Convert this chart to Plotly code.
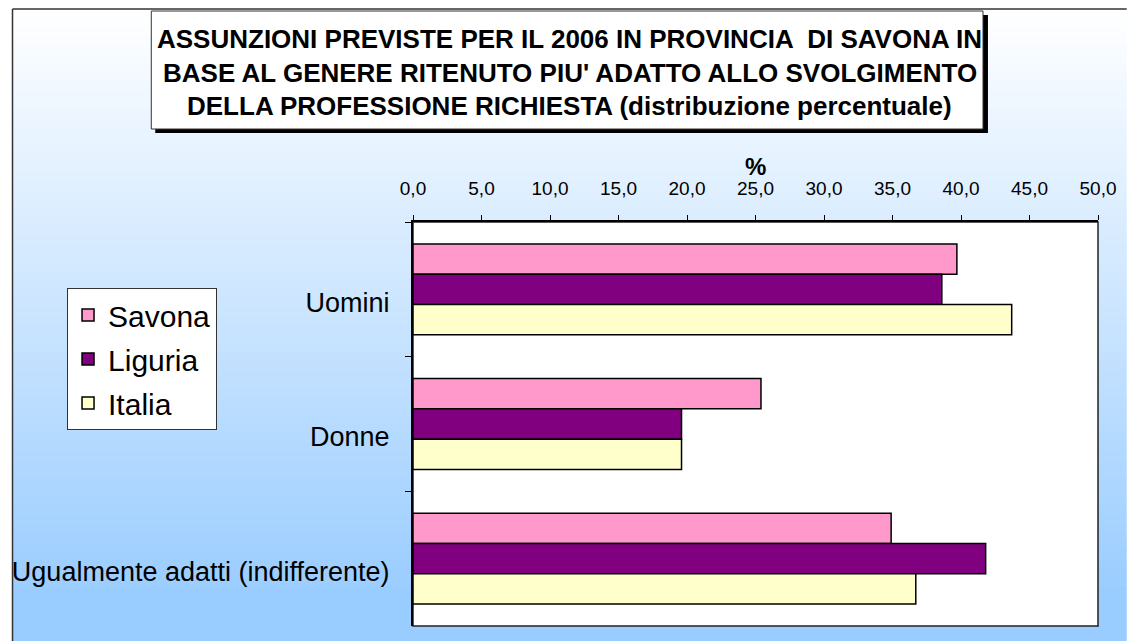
import plotly.graph_objects as go

# ---------------- data ----------------
categories = ["Uomini", "Donne", "Ugualmente adatti (indifferente)"]
series_names = ["Savona", "Liguria", "Italia"]
savona = [39.7, 25.4, 34.9]
liguria = [38.6, 19.6, 41.8]
italia = [43.7, 19.6, 36.7]
x_tick_values = [0, 5, 10, 15, 20, 25, 30, 35, 40, 45, 50]
title_lines = [
    "ASSUNZIONI PREVISTE PER IL 2006 IN PROVINCIA  DI SAVONA IN",
    "BASE AL GENERE RITENUTO PIU' ADATTO ALLO SVOLGIMENTO",
    "DELLA PROFESSIONE RICHIESTA (distribuzione percentuale)",
]
axis_unit = "%"

# ---------------- styles ----------------
colors = ["#FF99CC", "#800080", "#FFFFCC"]
FONT = "Liberation Sans, Arial, Helvetica, sans-serif"

W, H = 1128, 641
L, R, T, B = 413, 24, 222, 15
PW = W - L - R
PH = H - T - B


def px(x):
    return (x - L) / PW


def py(y):
    return (H - B - y) / PH


fig = go.Figure()
for name, vals, col in zip(series_names, [savona, liguria, italia], colors):
    fig.add_trace(go.Bar(
        name=name, y=categories, x=vals, orientation="h",
        marker=dict(color=col, line=dict(color="#000000", width=1.5)),
        legendgroup=name,
    ))

shapes = []
# gradient background of chart area
top_y, full_y = 9, 600
c0 = (255, 255, 255)
c1 = (153, 204, 255)
n = 70
y_start = 9
y_end = 641
step = (y_end - y_start) / n
for i in range(n):
    ya = y_start + i * step
    yb = ya + step + 0.8
    ym = ya + step / 2
    f = min(1.0, max(0.0, (ym - top_y) / (full_y - top_y)))
    c = tuple(round(c0[k] + (c1[k] - c0[k]) * f) for k in range(3))
    shapes.append(dict(type="rect", xref="paper", yref="paper", layer="below",
                       x0=px(9), x1=px(W + 5), y0=py(ya), y1=py(yb),
                       fillcolor="rgb(%d,%d,%d)" % c, line=dict(width=0)))
# outer chart border (left and top)
shapes.append(dict(type="line", xref="paper", yref="paper", layer="below",
                   x0=px(9), x1=px(9), y0=py(9), y1=py(H + 5),
                   line=dict(color="#333333", width=1.5)))
shapes.append(dict(type="line", xref="paper", yref="paper", layer="below",
                   x0=px(9), x1=px(W + 5), y0=py(9), y1=py(9),
                   line=dict(color="#333333", width=1.5)))
# plot area
shapes.append(dict(type="rect", xref="paper", yref="paper", layer="below",
                   x0=0, x1=1, y0=0, y1=1, fillcolor="white",
                   line=dict(color="#222222", width=1.5)))
# title box shadow and box
shapes.append(dict(type="rect", xref="paper", yref="paper", layer="below",
                   x0=px(153), x1=px(993), y0=py(133), y1=py(15),
                   fillcolor="black", line=dict(width=0)))
shapes.append(dict(type="rect", xref="paper", yref="paper", layer="below",
                   x0=px(149), x1=px(988), y0=py(129), y1=py(11),
                   fillcolor="white", line=dict(color="#333333", width=1)))

annotations = []
for line, yy in zip(title_lines, [39, 73, 106]):
    annotations.append(dict(text=line, xref="paper", yref="paper",
                            x=px(571), y=py(yy), xanchor="center", yanchor="middle",
                            showarrow=False,
                            font=dict(family=FONT, size=26, color="black", weight="bold")))
annotations.append(dict(text=axis_unit, xref="x", yref="paper", x=25, y=py(166),
                        xanchor="center", yanchor="middle", showarrow=False,
                        font=dict(family=FONT, size=24, color="black", weight="bold")))

fig.update_layout(
    width=W, height=H,
    margin=dict(l=L, r=R, t=T, b=B, pad=0),
    paper_bgcolor="white",
    plot_bgcolor="rgba(0,0,0,0)",
    barmode="group", bargap=0.325, bargroupgap=0,
    separators=",.",
    font=dict(family=FONT, color="black"),
    shapes=shapes,
    annotations=annotations,
    showlegend=True,
    legend=dict(x=px(64), y=py(288), xanchor="left", yanchor="top",
                bgcolor="white", bordercolor="#333333", borderwidth=1,
                font=dict(family=FONT, size=30, color="black"),
                traceorder="grouped", tracegroupgap=2,
                itemclick=False),
    xaxis=dict(side="top", range=[0, 50], tickvals=x_tick_values,
               tickformat=".1f", ticks="outside", ticklen=5, tickwidth=1,
               tickcolor="black", showline=True, linecolor="black", linewidth=2,
               showgrid=False, zeroline=False, ticklabelstandoff=12,
               tickfont=dict(family=FONT, size=19, color="black"), fixedrange=True),
    yaxis=dict(type="category", categoryorder="array", categoryarray=categories,
               range=[2.5, -0.5], tickson="boundaries", ticks="outside",
               ticklen=6, tickwidth=1, tickcolor="black",
               showline=True, linecolor="black", linewidth=2, showgrid=False,
               zeroline=False, ticklabelstandoff=16, ticklabelshift=-13,
               tickfont=dict(family=FONT, size=27, color="black"), fixedrange=True),
)

fig.write_html("out.html", post_script="document.body.style.margin='0';",
               config=dict(displayModeBar=False))
